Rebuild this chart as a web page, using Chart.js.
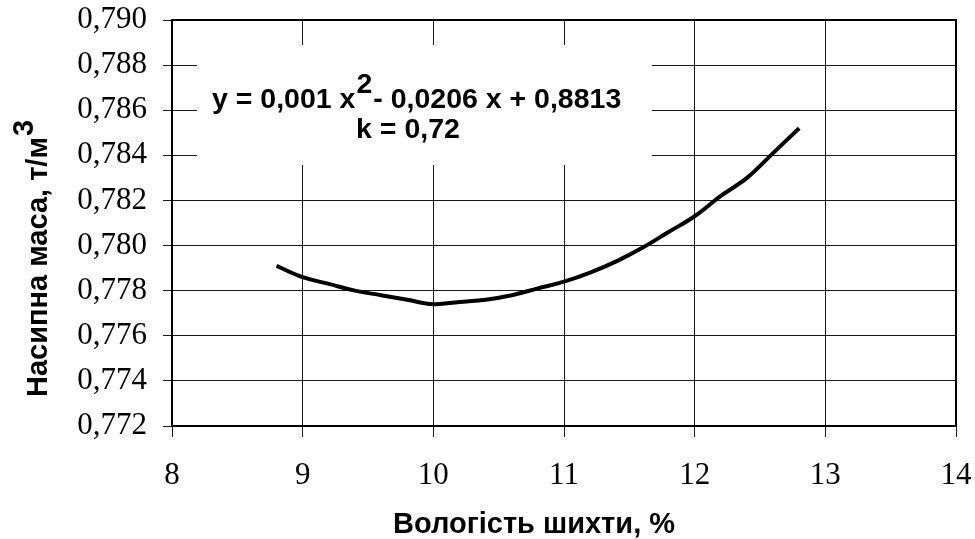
<!DOCTYPE html>
<html><head><meta charset="utf-8">
<script src="https://cdn.jsdelivr.net/npm/chart.js@4/dist/chart.umd.min.js"></script>
<style>html,body{margin:0;padding:0;background:#fff;}#wrap{width:975px;height:539px;}</style>
</head><body><div id="wrap"><canvas id="c" width="975" height="539"></canvas></div>
<script>
const moisture = [8.8, 9.0, 9.2, 9.4, 9.6, 9.8, 10.0, 10.2, 10.4, 10.6, 10.8, 11.0, 11.2, 11.4, 11.6, 11.8, 12.0, 12.2, 12.4, 12.6, 12.8];
const bulkDensity = [0.7791, 0.7786, 0.7783, 0.7780, 0.7778, 0.7776, 0.7774, 0.7775, 0.7776, 0.7778, 0.7781, 0.7784, 0.7788, 0.7793, 0.7799, 0.7806, 0.7813, 0.7822, 0.7830, 0.7841, 0.7852];
const xTickValues = [8, 9, 10, 11, 12, 13, 14];
const yTickValues = [0.772, 0.774, 0.776, 0.778, 0.780, 0.782, 0.784, 0.786, 0.788, 0.790];
const xTitle = 'Вологість шихти, %';
const yTitle = 'Насипна маса, т/м';
const yTitleSup = '3';
const eqParts = ['y = 0,001 x', '2', '- 0,0206 x + 0,8813'];
const eqK = 'k = 0,72';

const titleFont = 'bold 29px "Liberation Sans", Arial, sans-serif';
const eqFont = 'bold 28.5px "Liberation Sans", Arial, sans-serif';

const decor = {
  id: 'decor',
  beforeDatasetsDraw(chart) {
    const ctx = chart.ctx, a = chart.chartArea;
    ctx.save();
    ctx.fillStyle = '#fff';
    ctx.fillRect(a.left + 25, a.top + 25, 455, 120);
    ctx.fillStyle = '#000';
    ctx.font = eqFont;
    ctx.textBaseline = 'alphabetic';
    ctx.textAlign = 'left';
    let x = a.left + 40, y = a.top + 88;
    ctx.fillText(eqParts[0], x, y);
    x += ctx.measureText(eqParts[0]).width + 1;
    ctx.fillText(eqParts[1], x, y - 15);
    x += ctx.measureText(eqParts[1]).width + 1;
    ctx.fillText(eqParts[2], x, y);
    ctx.textAlign = 'center';
    ctx.fillText(eqK, a.left + 236, a.top + 118);
    ctx.restore();
  },
  afterDraw(chart) {
    const ctx = chart.ctx, a = chart.chartArea;
    ctx.save();
    ctx.strokeStyle = '#000';
    ctx.lineWidth = 2;
    ctx.strokeRect(a.left, a.top, a.right - a.left, a.bottom - a.top);
    ctx.fillStyle = '#000';
    ctx.font = titleFont;
    ctx.textAlign = 'center';
    ctx.textBaseline = 'alphabetic';
    ctx.fillText(xTitle, 534, 533);
    ctx.translate(47, 397);
    ctx.rotate(-Math.PI / 2);
    ctx.textAlign = 'left';
    ctx.fillText(yTitle, 0, 0);
    const w = ctx.measureText(yTitle).width;
    ctx.fillText(yTitleSup, w + 1, -14);
    ctx.restore();
  }
};

new Chart(document.getElementById('c'), {
  type: 'line',
  data: {
    datasets: [{
      data: moisture.map((m, i) => ({ x: m, y: bulkDensity[i] })),
      borderColor: '#000',
      borderWidth: 4,
      pointRadius: 0,
      tension: 0.4,
      fill: false
    }]
  },
  options: {
    responsive: false,
    animation: false,
    devicePixelRatio: 1,
    layout: { padding: { left: 0, top: 20, right: 19, bottom: 0 } },
    plugins: { legend: { display: false }, tooltip: { enabled: false } },
    scales: {
      x: {
        type: 'linear', min: 8, max: 14,
        afterBuildTicks: s => { s.ticks = xTickValues.map(v => ({ value: v })); },
        afterFit: s => { s.height = 113; s.paddingLeft = 0; s.paddingRight = 0; },
        grid: { color: '#1a1a1a', lineWidth: 1, tickLength: 11 },
        border: { color: '#000', width: 2 },
        ticks: {
          color: '#000', padding: 20,
          font: { family: '"Liberation Serif", "Times New Roman", serif', size: 31 },
          callback: v => String(v)
        }
      },
      y: {
        type: 'linear', min: 0.772, max: 0.790,
        afterBuildTicks: s => { s.ticks = yTickValues.map(v => ({ value: v })); },
        afterFit: s => { s.width = 172; s.paddingTop = 0; s.paddingBottom = 0; },
        grid: { color: '#1a1a1a', lineWidth: 1, tickLength: 9 },
        border: { color: '#000', width: 2 },
        ticks: {
          color: '#000', padding: 16,
          font: { family: '"Liberation Serif", "Times New Roman", serif', size: 31 },
          callback: v => Number(v).toFixed(3).replace('.', ',')
        }
      }
    }
  },
  plugins: [decor]
});
</script>
</body></html>
